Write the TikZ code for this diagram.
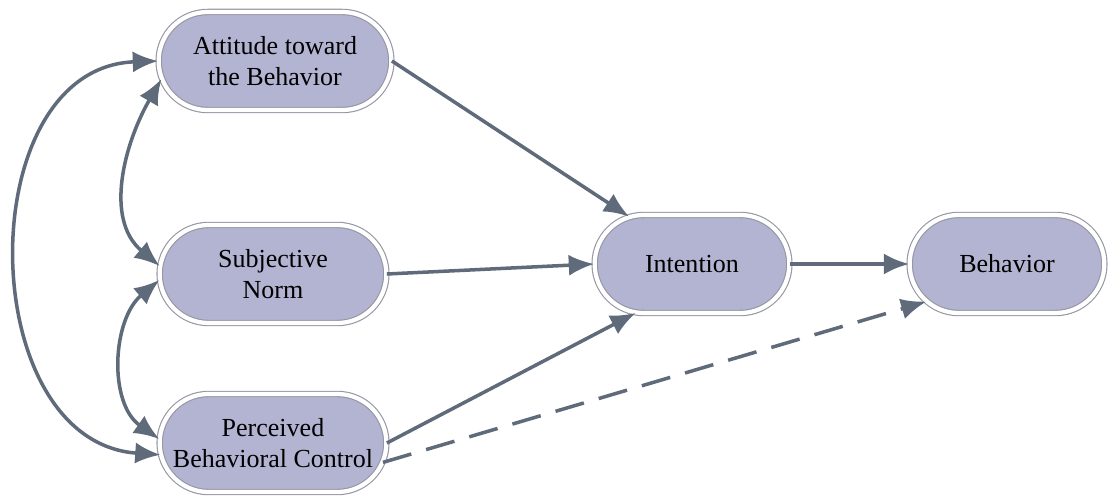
\documentclass[tikz,border=0pt]{standalone}
\usepackage{fontspec}
\setmainfont{Liberation Serif}
\usepackage{xcolor}
\usetikzlibrary{shapes.misc,arrows.meta}

\definecolor{boxfill}{RGB}{178,180,210}
\definecolor{boxline}{RGB}{150,150,165}
\definecolor{arrowcol}{RGB}{95,107,122}

\begin{document}
\begin{tikzpicture}[x=0.025cm, y=-0.025cm,
    construct/.style={rounded rectangle, fill=boxfill, draw=boxline, line width=0.8pt,
        double=white, double distance=3pt, align=center, minimum height=2.45cm,
        minimum width=5.9cm, font=\fontsize{18.5}{21.5}\selectfont},
    path/.style={draw=arrowcol, line width=2.5pt, -{Latex[length=18pt,width=15pt]}},
    corr/.style={draw=arrowcol, line width=2.5pt, {Latex[length=18pt,width=15pt]}-{Latex[length=18pt,width=15pt]}}]
                \useasboundingbox (0,0) rectangle (1113,498);

                %% constructs
                \node[construct, minimum width=6.05cm] (att) at (275,61)  {Attitude toward\\the Behavior};
                \node[construct] (sub) at (273,274) {Subjective\\Norm};
                \node[construct] (per) at (273,443) {Perceived\\Behavioral Control};
                \node[construct, minimum width=5.1cm] (int) at (692,264) {Intention};
                \node[construct, minimum width=5.1cm] (beh) at (1007,264) {Behavior};

                %% paths
                \draw[path] (att.east) -- (int.143);
                \draw[path] (sub.east) -- (int.west);
                \draw[path] (per.east) -- (int.221);
                \draw[path] (int.east) -- (beh.west);
                \draw[path, dash pattern=on 21pt off 11pt] (per.-10) -- (beh.205);

                %% correlations
                \draw[corr] (att.180) to[out=182, in=176, looseness=1.22] (per.186);
                \draw[corr] (att.189) to[out=240, in=140, looseness=1.0] (sub.176);
                \draw[corr] (sub.183) to[out=220, in=145, looseness=1.0] (per.178);

            \end{tikzpicture}
\end{document}
